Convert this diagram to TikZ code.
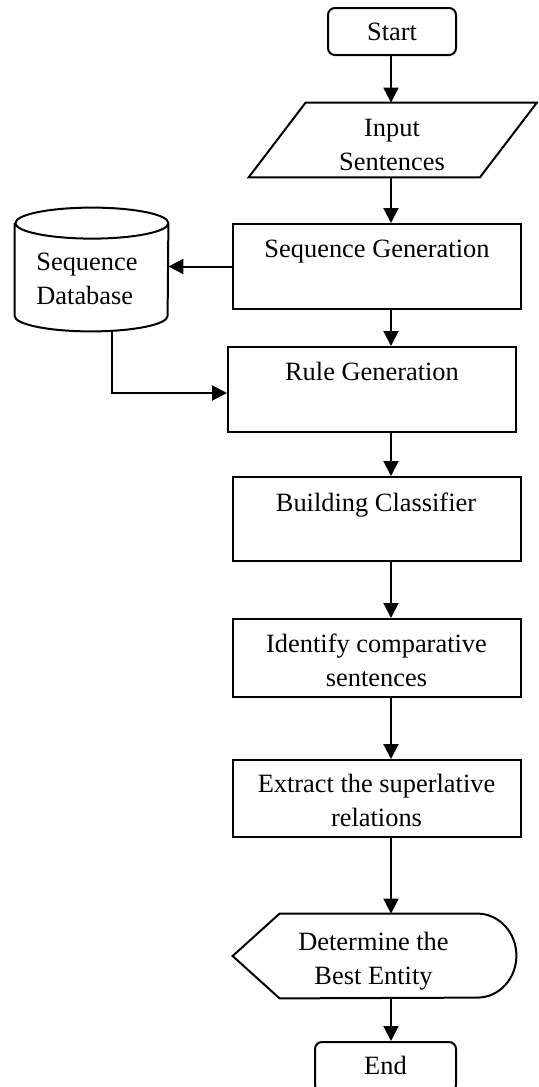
\documentclass[tikz,border=0pt]{standalone}
\usepackage{fontspec}
\setmainfont{Liberation Serif}
\usetikzlibrary{arrows.meta,calc}
\begin{document}
\begin{tikzpicture}[x=0.5pt,y=-0.5pt,
  shp/.style={draw, line width=1pt, inner sep=0pt},
  box/.style={shp, rectangle, minimum width=144pt},
  term/.style={shp, rounded corners=3.5pt, minimum width=64pt, minimum height=23.5pt},
  frame/.style={inner sep=0pt, rectangle},
  lbl/.style={inner sep=0pt, align=center, font=\fontsize{13.2}{17}\selectfont},
  arr/.style={line width=1pt, -{Triangle[length=7.5pt,width=7.5pt]}},
  ln/.style={line width=1pt, line join=miter}]

\useasboundingbox (0,0) rectangle (538,1087);
\clip (0,0) rectangle (538,1087);
\coordinate (col) at (391,0);
\coordinate (dbx) at (112,0);

% Start
\node[term] (st) at (392,31.5) {};
\node[lbl] (stt) at (392,34) {\strut Start};

% Input (parallelogram)
\node[frame, minimum width=115.25pt, minimum height=37pt] (inp) at (392.75,140) {};
\draw[ln] ($(inp.north west)+(28.5,0)$) -- ($(inp.north east)+(28.5,0)$)
  -- ($(inp.south east)+(-28.5,0)$) -- ($(inp.south west)+(-28.5,0)$) -- cycle;
\node[lbl] (inpt) at (392,147) {\strut Input\\\strut Sentences};

% Sequence Generation
\node[box, minimum height=42.5pt] (sg) at (377,266.5) {};
\node[lbl] (sgt) at (377,251) {\strut Sequence Generation};

% Sequence Database (cylinder)
\node[frame, minimum width=76.5pt, minimum height=61.5pt] (db) at (91.5,269.5) {};
\draw[ln] ($(db.north west)+(0,15.5)$) -- ($(db.south west)+(0,-15.5)$)
  arc[start angle=180, end angle=360, x radius=38.25pt, y radius=7.75pt]
  -- ($(db.north east)+(0,15.5)$)
  arc[start angle=0, end angle=180, x radius=38.25pt, y radius=7.75pt]
  arc[start angle=180, end angle=360, x radius=38.25pt, y radius=7.75pt];
\node[lbl, anchor=west, align=left] (dbt) at (36,281) {\strut Sequence\\\strut Database};

% Rule Generation
\node[box, minimum height=42.5pt] (rg) at (372,389.5) {};
\node[lbl] (rgt) at (372,374) {\strut Rule Generation};

% Building Classifier
\node[box, minimum height=42pt] (bc) at (377,519) {};
\node[lbl] (bct) at (376,505) {\strut Building Classifier};

% Identify comparative sentences
\node[box, minimum height=39pt] (ic) at (377,658) {};
\node[lbl] (ict) at (376.5,662.5) {\strut Identify comparative\\\strut sentences};

% Extract the superlative relations
\node[box, minimum height=38.5pt] (ex) at (377,798.5) {};
\node[lbl] (ext) at (376.5,803) {\strut Extract the superlative\\\strut relations};

% Determine the Best Entity (display)
\node[frame, minimum width=141.5pt, minimum height=42pt] (dp) at (374.5,956) {};
\draw[ln] ($(dp.north west)+(47,0)$) -- ($(dp.north east)+(-39,0)$)
  arc[start angle=90, end angle=-90, x radius=19.5pt, y radius=21pt]
  -- ($(dp.south west)+(47,0)$) -- (dp.west) -- cycle;
\node[lbl] (dpt) at (373.5,960.5) {\strut Determine the\\\strut Best Entity};

% End
\node[term, minimum width=70.5pt, minimum height=25pt] (en) at (385.5,1067) {};
\node[lbl] (ent) at (385.5,1068) {\strut End};

% Connectors
\draw[arr] (st.south -| col) -- (inp.north -| col);
\draw[arr] (inp.south -| col) -- (sg.north -| col);
\draw[arr] (sg.west) -- (sg.west -| db.east);
\draw[arr] (sg.south -| col) -- (rg.north -| col);
\draw[arr] (db.south -| dbx) |- ([yshift=-1.75pt]rg.west);
\draw[arr] (rg.south -| col) -- (bc.north -| col);
\draw[arr] (bc.south -| col) -- (ic.north -| col);
\draw[arr] (ic.south -| col) -- (ex.north -| col);
\draw[arr] (ex.south -| col) -- (dp.north -| col);
\draw[arr] (dp.south -| col) -- (en.north -| col);
\end{tikzpicture}
\end{document}
